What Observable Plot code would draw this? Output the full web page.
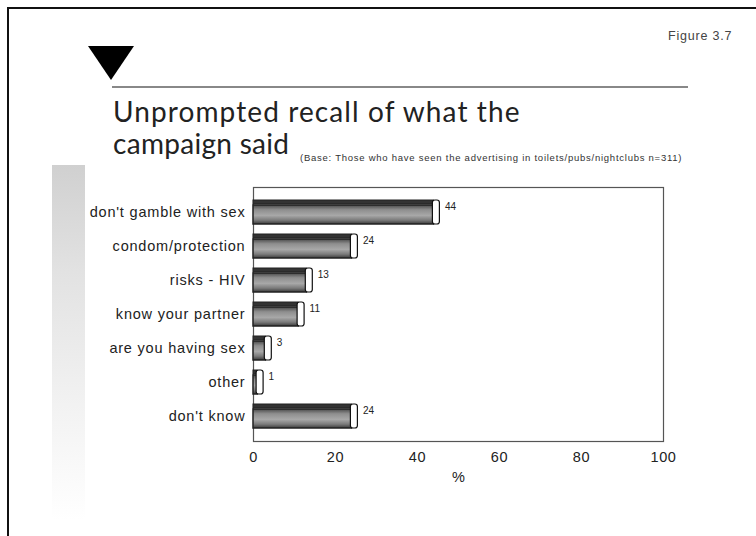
<!DOCTYPE html>
<html>
<head>
<meta charset="utf-8">
<script src="https://cdn.jsdelivr.net/npm/d3@7"></script>
<script src="https://cdn.jsdelivr.net/npm/@observablehq/plot@0.6"></script>
<style>
  html, body { margin: 0; padding: 0; background: #fff; }
  #page { position: relative; width: 756px; height: 536px; overflow: hidden; background: #fff; }
  #border { position: absolute; left: 7px; top: 7px; width: 800px; height: 600px; border-left: 2px solid #111; border-top: 2px solid #111; }
  #fig { position: absolute; left: 668px; top: 29px; font: 12.5px "Liberation Sans", Arial, sans-serif; color: #444; letter-spacing: 0.8px; }
  #tri { position: absolute; left: 88px; top: 46px; width: 0; height: 0; border-left: 23px solid transparent; border-right: 23px solid transparent; border-top: 34px solid #000; }
  #rule { position: absolute; left: 112px; top: 86px; width: 576px; height: 2px; background: #888; }
  #title { position: absolute; left: 113px; top: 95px; font: 28px/32px Lato, "Open Sans", sans-serif; color: #222; letter-spacing: 1.1px; }
  #title span { letter-spacing: 0.3px; }
  #sub { position: absolute; left: 300px; top: 152px; font: 9.5px "Liberation Sans", Arial, sans-serif; color: #333; letter-spacing: 0.75px; }
  #side { position: absolute; left: 52px; top: 165px; width: 33px; height: 355px; background: linear-gradient(to bottom, #d0d0d0 0%, #e2e2e2 30%, #f3f3f3 70%, #ffffff 100%); }
  #chart { position: absolute; left: 0; top: 170px; }
  #chart g[aria-label="y-axis tick label"] text { letter-spacing: 0.8px; }
  #chart g[aria-label="x-axis tick label"] text { letter-spacing: 0.6px; }
</style>
</head>
<body>
<div id="page">
  <div id="border"></div>
  <div id="fig">Figure 3.7</div>
  <div id="tri"></div>
  <div id="rule"></div>
  <div id="title">Unprompted recall of what the<br><span>campaign said</span></div>
  <div id="sub">(Base: Those who have seen the advertising in toilets/pubs/nightclubs n=311)</div>
  <div id="side"></div>
  <div id="chart"></div>
</div>
<script>
const categories = ["don't gamble with sex", "condom/protection", "risks - HIV", "know your partner", "are you having sex", "other", "don't know"];
const values = [44, 24, 13, 11, 3, 1, 24];
const xTicks = [0, 20, 40, 60, 80, 100];
const xLabel = "%";

const data = categories.map((c, i) => ({cat: c, v: values[i]}));

const chart = Plot.plot({
  width: 756,
  height: 320,
  marginLeft: 253,
  marginRight: 93,
  marginTop: 17,
  marginBottom: 49,
  style: {fontFamily: "'Liberation Sans', Arial, sans-serif", fontSize: "14.5px", color: "#222", background: "transparent"},
  x: {domain: [0, 100], ticks: xTicks, tickSize: 0, tickPadding: 10, label: xLabel, labelAnchor: "center", labelOffset: 40, labelArrow: "none"},
  y: {domain: categories, padding: 0.28, tickSize: 0, tickPadding: 8, label: null},
  marks: [
    Plot.frame({stroke: "#555", strokeWidth: 1.2}),
    // front face
    Plot.barX(data, {y: "cat", x1: 0, x2: "v", insetTop: 5, fill: "url(#barGrad)", stroke: "#222", strokeWidth: 1.5}),
    // top face
    Plot.barX(data, {y: "cat", x1: 0, x2: "v", insetBottom: 20, fill: "#333", stroke: "#222", strokeWidth: 1}),
    // end cap
    Plot.rect(data, {y: "cat", x1: "v", x2: "v", insetLeft: -1, insetRight: -6, fill: "#fff", stroke: "#111", strokeWidth: 1.2, rx: 2.5}),
    // value labels
    Plot.text(data, {y: "cat", x: "v", text: d => String(d.v), dx: 11, dy: -6, textAnchor: "start", fontSize: 10, fill: "#222"})
  ]
});

// gradient for the bar faces
const defs = document.createElementNS("http://www.w3.org/2000/svg", "defs");
defs.innerHTML = `<linearGradient id="barGrad" x1="0" y1="0" x2="0" y2="1">
  <stop offset="0%" stop-color="#4a4a4a"/>
  <stop offset="25%" stop-color="#8e8e8e"/>
  <stop offset="55%" stop-color="#a8a8a8"/>
  <stop offset="80%" stop-color="#7a7a7a"/>
  <stop offset="100%" stop-color="#3a3a3a"/>
</linearGradient>`;
chart.insertBefore(defs, chart.firstChild);

document.getElementById("chart").appendChild(chart);
</script>
</body>
</html>
